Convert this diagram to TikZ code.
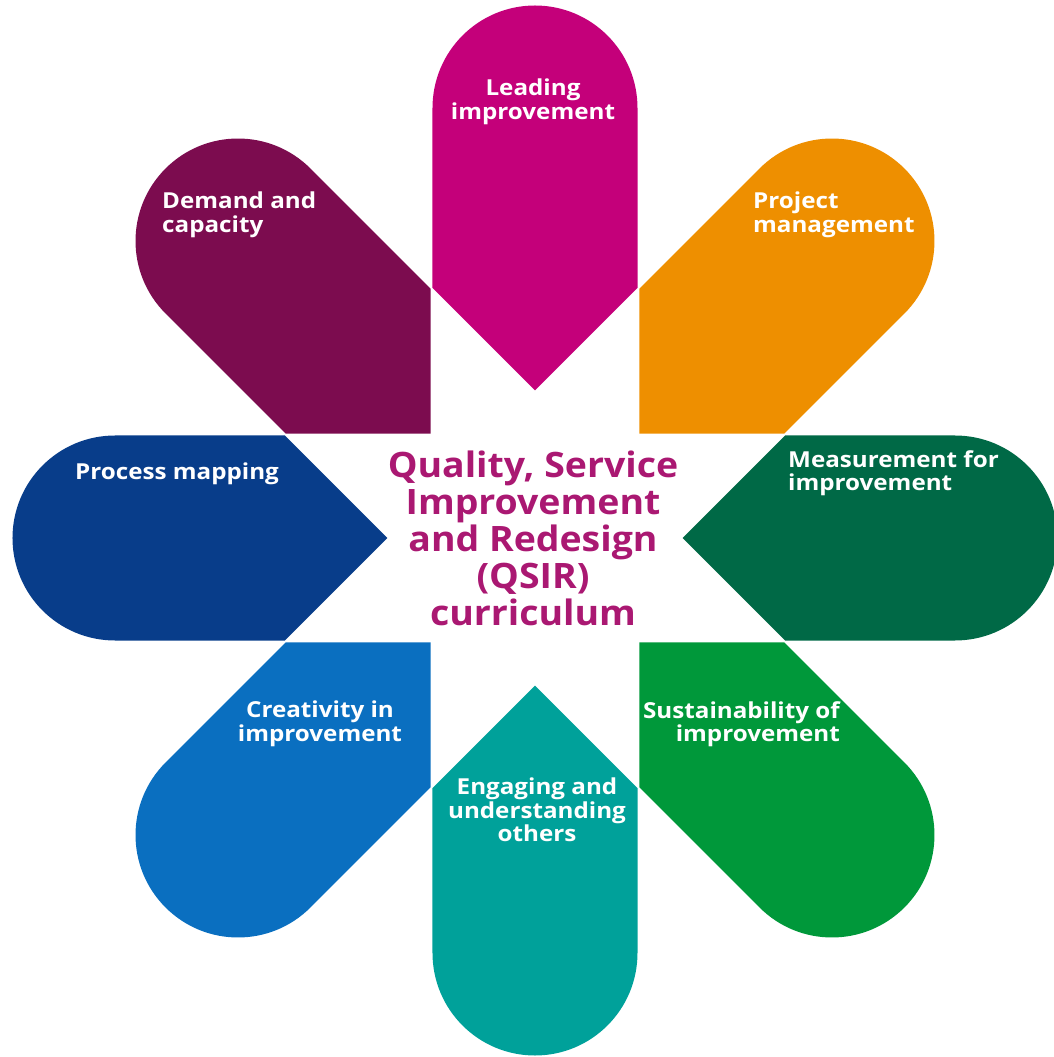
\documentclass[tikz,border=0pt]{standalone}
\usepackage{fontspec}
\setmainfont{Open Sans}
\newfontfamily\petalfont[FakeStretch=1.1]{Open Sans}
\newfontfamily\titlefont[FakeStretch=1.07]{Open Sans}
\definecolor{leadcol}{HTML}{C4007A}
\definecolor{projcol}{HTML}{EE8F00}
\definecolor{meascol}{HTML}{006946}
\definecolor{sustcol}{HTML}{00983A}
\definecolor{engcol}{HTML}{00A19A}
\definecolor{creacol}{HTML}{0A6FC0}
\definecolor{proccol}{HTML}{083D8A}
\definecolor{demcol}{HTML}{7C0C4F}
\definecolor{titlecol}{HTML}{AA1872}
\tikzset{
  lbl/.style={text=white, font=\petalfont\bfseries\fontsize{22}{23.5}\selectfont, inner sep=0pt},
  title/.style={text=titlecol, font=\titlefont\bfseries\fontsize{35}{37}\selectfont, inner sep=0pt, align=center}
}

\begin{document}
\begin{tikzpicture}[x=1pt,y=1pt]
\useasboundingbox (-535,-519) rectangle (519,538);

% petals, one every 45 degrees
\fill [leadcol, rotate=90] (147.5,0) -- (250,102.5) -- (430,102.5) arc [start angle=90, end angle=-90, radius=102.5] -- (250,-102.5) -- cycle;
\fill [projcol, rotate=45] (147.5,0) -- (250,102.5) -- (420,102.5) arc [start angle=90, end angle=-90, radius=102.5] -- (250,-102.5) -- cycle;
\fill [meascol, rotate=0] (147.5,0) -- (250,102.5) -- (420,102.5) arc [start angle=90, end angle=-90, radius=102.5] -- (250,-102.5) -- cycle;
\fill [sustcol, rotate=-45] (147.5,0) -- (250,102.5) -- (420,102.5) arc [start angle=90, end angle=-90, radius=102.5] -- (250,-102.5) -- cycle;
\fill [engcol, rotate=-90] (147.5,0) -- (250,102.5) -- (415,102.5) arc [start angle=90, end angle=-90, radius=102.5] -- (250,-102.5) -- cycle;
\fill [creacol, rotate=-135] (147.5,0) -- (250,102.5) -- (420,102.5) arc [start angle=90, end angle=-90, radius=102.5] -- (250,-102.5) -- cycle;
\fill [proccol, rotate=180] (147.5,0) -- (250,102.5) -- (420,102.5) arc [start angle=90, end angle=-90, radius=102.5] -- (250,-102.5) -- cycle;
\fill [demcol, rotate=135] (147.5,0) -- (250,102.5) -- (420,102.5) arc [start angle=90, end angle=-90, radius=102.5] -- (250,-102.5) -- cycle;

% labels
\node [lbl, align=center] (lead) at (-2,436) {Leading\\improvement};
\node [lbl, align=left, anchor=west] (project) at (218,323) {Project\\management};
\node [lbl, align=left, anchor=west] (measure) at (253,65) {Measurement for\\improvement};
\node [lbl, align=right, anchor=east] (sustain) at (305,-186) {Sustainability of\\improvement};
\node [lbl, align=center] (engage) at (2,-272) {Engaging and\\understanding\\others};
\node [lbl, align=center] (creat) at (-215,-186) {Creativity in\\improvement};
\node [lbl, anchor=base west] (process) at (-460,58) {Process mapping};
\node [lbl, align=left, anchor=west] (demand) at (-373,323) {Demand and\\capacity};

\node [title] (qsir) at (-2,0) {Quality, Service\\Improvement\\and Redesign\\(QSIR)\\curriculum};
\end{tikzpicture}
\end{document}
